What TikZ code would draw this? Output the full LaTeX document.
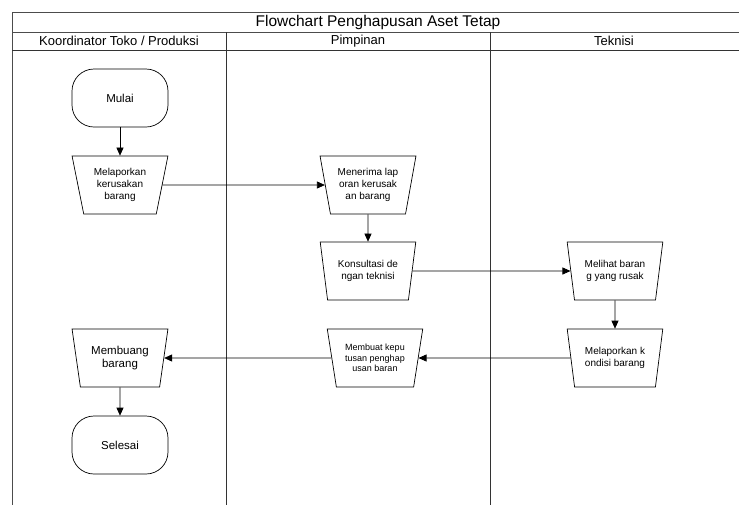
\documentclass[tikz,border=0pt]{standalone}
\usepackage{fontspec}
\setmainfont{Liberation Sans}
\usetikzlibrary{arrows.meta,shapes.geometric}

\begin{document}
\begin{tikzpicture}[x=1pt,y=-1pt,line width=0.7pt,
  proses/.style={draw,trapezium,trapezium stretches=true,shape border rotate=180,
    trapezium angle=76,minimum width=96pt,minimum height=58pt,inner sep=0.5pt,
    align=center,font=\fontsize{10}{12}\selectfont},
  terminal/.style={draw,rounded corners=22pt,minimum width=96pt,minimum height=58pt,
    font=\fontsize{11.5}{13}\selectfont},
  panah/.style={-{Triangle[length=8pt,width=7pt]}}]
\useasboundingbox (0,0) rectangle (739,507);
\draw[black!70] (739,12) -- (12,12) -- (12,505);
\draw[black!70] (12,32) -- (739,32);
\draw[black!80] (12,50) -- (739,50);
\draw[black!80] (226,32) -- (226,505);
\draw[black!80] (490,32) -- (490,505);
\node (judul) at (378,22) {\fontsize{15.5}{17}\selectfont Flowchart Penghapusan Aset Tetap};
\node (koordinator) at (119,41) {\fontsize{13}{15}\selectfont Koordinator Toko / Produksi};
\node (pimpinan) at (358,41) {\fontsize{13}{15}\selectfont Pimpinan};
\node (teknisi) at (614,41) {\fontsize{13}{15}\selectfont Teknisi};
\node[terminal] (mulai) at (120,98) {Mulai};
\node[proses] (lapor) at (120,185) {Melaporkan\\kerusakan\\barang};
\node[proses] (terima) at (368,185) {Menerima lap\\oran kerusak\\an barang};
\node[proses] (konsultasi) at (368,271) {Konsultasi de\\ngan teknisi};
\node[proses] (lihat) at (615,271) {Melihat baran\\g yang rusak};
\node[proses] (kondisi) at (615,358) {Melaporkan k\\ondisi barang};
\node[proses,font=\fontsize{9}{10.5}\selectfont] (keputusan) at (375,358) {Membuat kepu\\tusan penghap\\usan baran};
\node[proses,font=\fontsize{11.5}{13}\selectfont] (buang) at (120,358) {Membuang\\barang};
\node[terminal] (selesai) at (120,445) {Selesai};
\draw[panah] (mulai) -- (lapor);
\draw[panah] (lapor) -- (terima);
\draw[panah] (terima) -- (konsultasi);
\draw[panah] (konsultasi) -- (lihat);
\draw[panah] (lihat) -- (kondisi);
\draw[panah] (kondisi) -- (keputusan);
\draw[panah] (keputusan) -- (buang);
\draw[panah] (buang) -- (selesai);
\end{tikzpicture}
\end{document}
